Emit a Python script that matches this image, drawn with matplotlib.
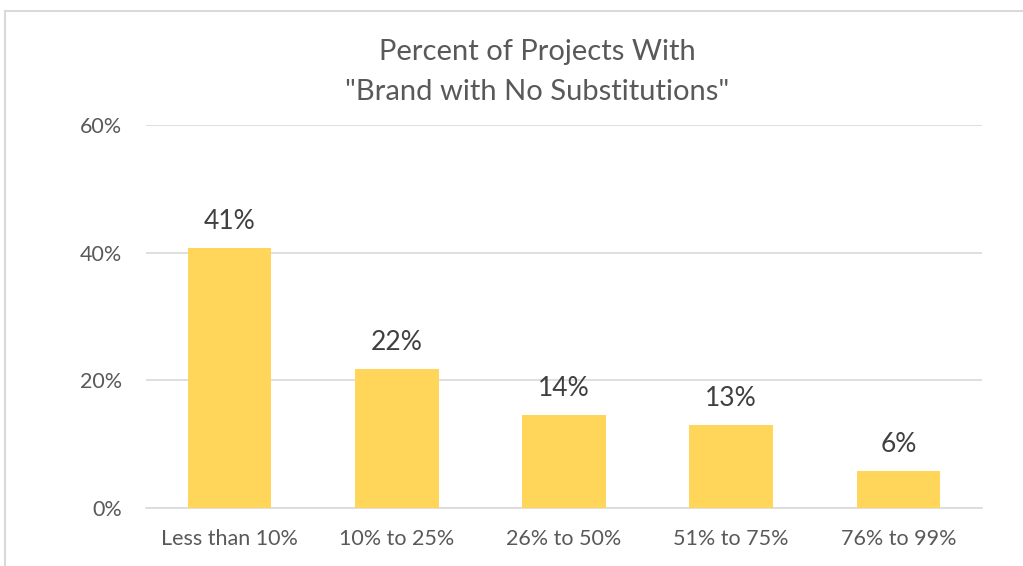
import matplotlib.pyplot as plt
import numpy as np

categories = ['Less than 10%', '10% to 25%', '26% to 50%', '51% to 75%', '76% to 99%']
values = [40.7, 21.8, 14.6, 13.0, 5.8]
labels = ['41%', '22%', '14%', '13%', '6%']
yticks = [0, 20, 40, 60]

plt.rcParams['font.family'] = ['Lato', 'DejaVu Sans']

fig = plt.figure(figsize=(10.23, 5.66), dpi=100)
ax = fig.add_axes([146/1023, 1 - 508/566, (982-146)/1023, (508-125)/566])

x = np.arange(len(categories))
ax.bar(x, values, width=0.5, color='#FFD55A', zorder=3)
for xi, v, lab in zip(x, values, labels):
    ax.text(xi, v + 2.2, lab, ha='center', va='bottom', fontsize=19, color='#404040')

ax.set_xlim(-0.5, len(categories) - 0.5)
ax.set_ylim(0, 60)
ax.set_yticks(yticks)
ax.set_yticklabels([f'{t}%' for t in yticks])
ax.set_xticks(x)
ax.set_xticklabels(categories)
ax.tick_params(axis='both', length=0, labelsize=15.5, labelcolor='#595959')
ax.tick_params(axis='y', pad=17)
ax.tick_params(axis='x', pad=15)
ax.grid(axis='y', color='#D9D9D9', linewidth=1.2, zorder=0)
for s in ['top', 'right', 'left']:
    ax.spines[s].set_visible(False)
ax.spines['bottom'].set_color('#D9D9D9')
ax.spines['bottom'].set_linewidth(1.2)

fig.text(537/1023, 1 - 72/566, 'Percent of Projects With\n"Brand with No Substitutions"',
         ha='center', va='center', fontsize=21, color='#595959', linespacing=1.65)

# chart border
fig.add_artist(plt.Line2D([5/1023, 5/1023], [0, 1 - 11/566], color='#D9D9D9', linewidth=1.5))
fig.add_artist(plt.Line2D([5/1023, 1], [1 - 11/566, 1 - 11/566], color='#D9D9D9', linewidth=1.5))

fig.savefig('out.png', dpi=100)
